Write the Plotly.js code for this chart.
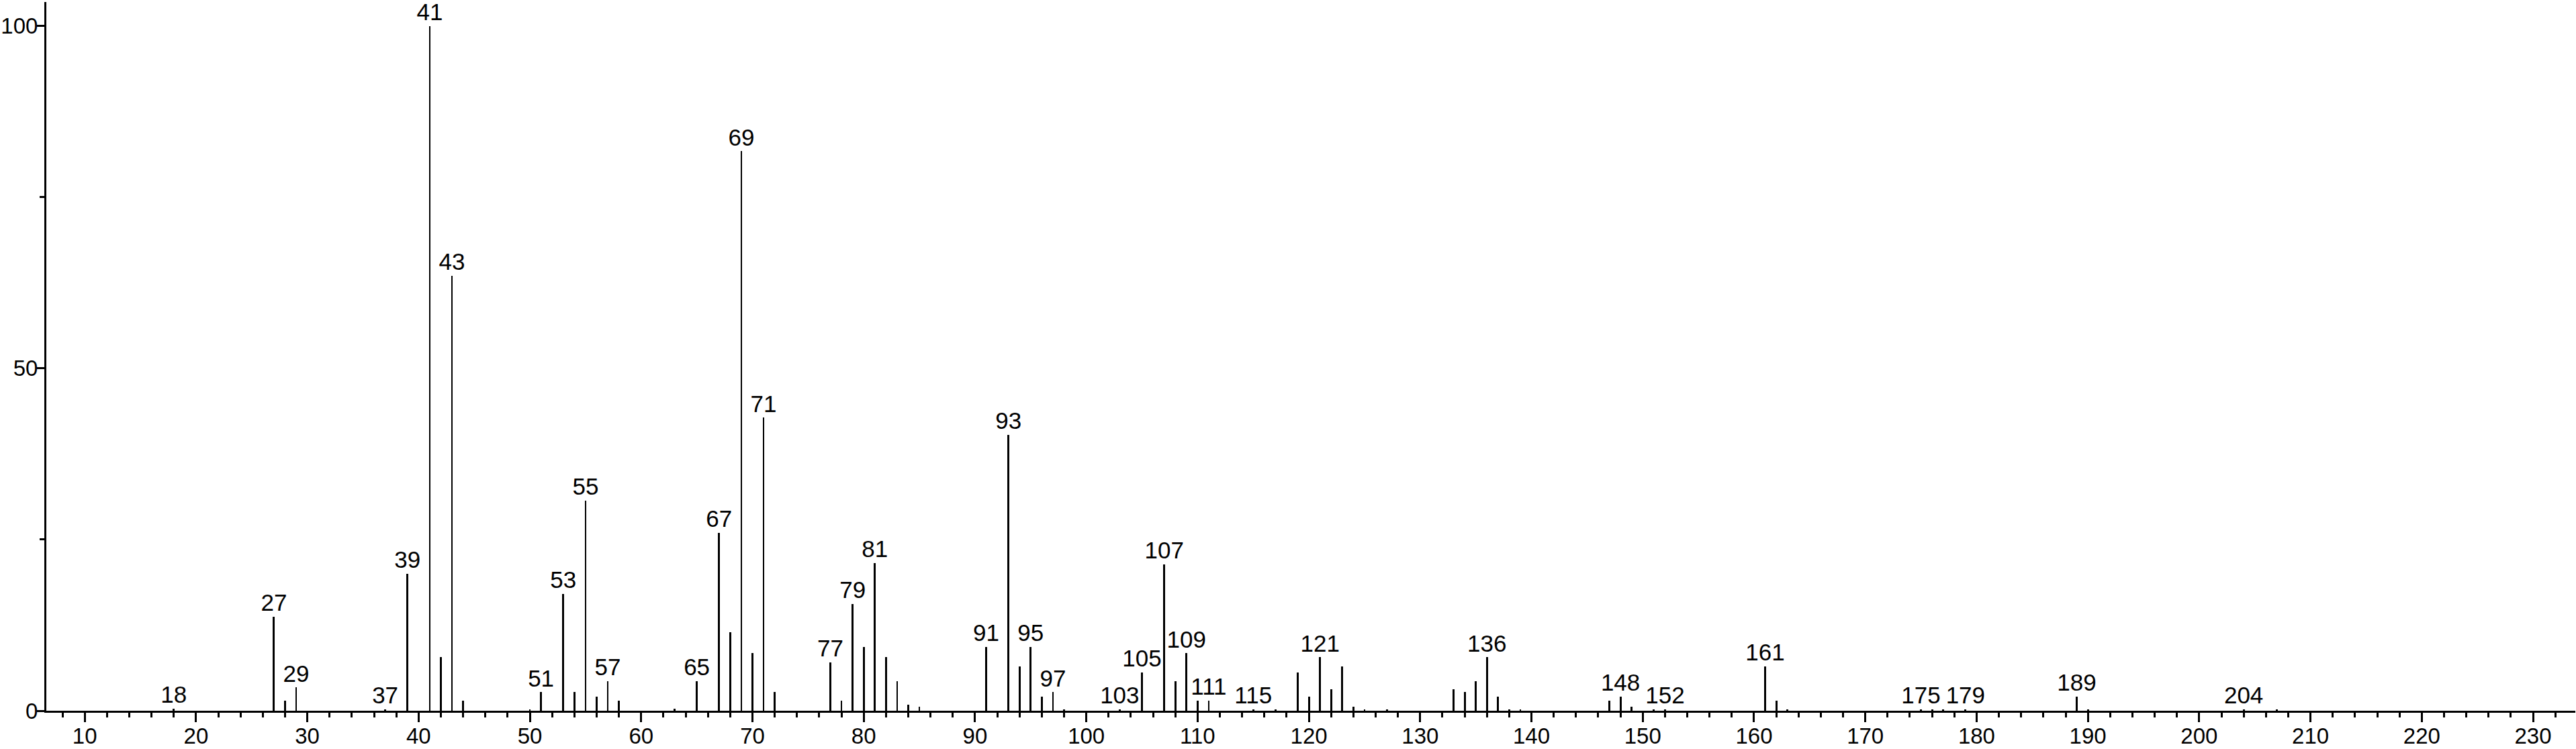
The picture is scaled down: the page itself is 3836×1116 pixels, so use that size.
<!DOCTYPE html>
<html>
<head>
<meta charset="utf-8">
<script src="https://cdn.plot.ly/plotly-3.0.1.min.js"></script>
<style>
  html, body { margin: 0; padding: 0; background: #ffffff; }
  #chart { width: 3836px; height: 1116px; }
</style>
</head>
<body>
<div id="chart"></div>
<script>
// m/z values of peaks
const mz = [
  18, 27, 28, 29, 37, 39, 41, 42, 43, 44,
  50, 51, 53, 54, 55, 56, 57, 58, 63, 65,
  67, 68, 69, 70, 71, 72, 77, 78, 79, 80,
  81, 82, 83, 84, 85, 91, 93, 94, 95, 96,
  97, 98, 103, 105, 107, 108, 109, 110, 111, 115,
  117, 119, 120, 121, 122, 123, 124, 125, 127, 133,
  134, 135, 136, 137, 138, 139, 147, 148, 149, 151,
  152, 161, 162, 163, 175, 176, 177, 179, 189, 190,
  204, 207
];
// relative intensities (%)
const intensity = [
  0.3, 13.7, 1.5, 3.4, 0.2, 20.0, 100, 7.8, 63.5, 1.5,
  0.2, 2.7, 17.1, 2.7, 30.7, 2.1, 4.3, 1.5, 0.3, 4.3,
  26.0, 11.5, 81.7, 8.4, 42.8, 2.7, 7.1, 1.5, 15.6, 9.3,
  21.6, 7.8, 4.3, 0.9, 0.6, 9.3, 40.3, 6.5, 9.3, 2.1,
  2.7, 0.2, 0.2, 5.6, 21.4, 4.3, 8.4, 1.5, 1.5, 0.2,
  0.2, 5.6, 2.1, 7.8, 3.1, 6.5, 0.6, 0.2, 0.2, 3.1,
  2.7, 4.3, 7.8, 2.1, 0.2, 0.2, 1.5, 2.1, 0.6, 0.2,
  0.2, 6.5, 1.5, 0.2, 0.2, 0.2, 0.2, 0.2, 2.1, 0.2,
  0.2, 0.2
];
// peaks that carry a text label
const labelledMz = [
  18, 27, 29, 37, 39, 41, 43, 51, 53, 55, 57, 65, 67, 69, 71,
  77, 79, 81, 91, 93, 95, 97, 103, 105, 107, 109, 111, 115,
  121, 136, 148, 152, 161, 175, 179, 189, 204
];
const xTickVals = [10, 20, 30, 40, 50, 60, 70, 80, 90, 100, 110, 120, 130, 140, 150, 160, 170, 180, 190, 200, 210, 220, 230];
const yTickVals = [0, 50, 100];
const yTickText = ['0', '50', '100'];

const labelY = labelledMz.map(m => intensity[mz.indexOf(m)]);
const labelText = labelledMz.map(m => String(m));

const FONT = '"Liberation Sans", Arial, Helvetica, sans-serif';

const traces = [
  {
    type: 'bar',
    x: mz,
    y: intensity,
    width: 0.17,
    marker: { color: '#000000', line: { width: 0 } },
    hoverinfo: 'x+y',
    showlegend: false
  },
  {
    type: 'scatter',
    mode: 'text',
    x: labelledMz,
    y: labelY,
    text: labelText,
    textposition: 'top center',
    textfont: { family: FONT, size: 35, color: '#000000' },
    cliponaxis: false,
    hoverinfo: 'skip',
    showlegend: false
  }
];

const layout = {
  width: 3836,
  height: 1116,
  paper_bgcolor: '#ffffff',
  plot_bgcolor: '#ffffff',
  margin: { l: 69, r: 1, t: 3, b: 57, pad: 0 },
  bargap: 0,
  showlegend: false,
  font: { family: FONT, color: '#000000' },
  xaxis: {
    range: [6.55, 233.8],
    showgrid: false,
    zeroline: false,
    showline: true,
    linecolor: '#000000',
    linewidth: 3,
    ticks: 'outside',
    ticklen: 14,
    tickwidth: 3,
    tickcolor: '#000000',
    tickmode: 'array',
    tickvals: xTickVals,
    ticktext: xTickVals.map(String),
    ticklabelstandoff: -8,
    tickfont: { family: FONT, size: 33, color: '#000000' },
    minor: { dtick: 2, tick0: 0, ticks: 'outside', ticklen: 7, tickwidth: 3, tickcolor: '#000000', showgrid: false },
    fixedrange: true
  },
  yaxis: {
    range: [0, 103.5],
    showgrid: false,
    zeroline: false,
    showline: true,
    linecolor: '#000000',
    linewidth: 3,
    ticks: 'outside',
    ticklen: 11,
    tickwidth: 3,
    tickcolor: '#000000',
    tickmode: 'array',
    tickvals: yTickVals,
    ticktext: yTickText,
    ticklabelstandoff: -8,
    tickfont: { family: FONT, size: 33, color: '#000000' },
    minor: { dtick: 25, tick0: 0, ticks: 'outside', ticklen: 7, tickwidth: 3, tickcolor: '#000000', showgrid: false },
    fixedrange: true
  }
};

Plotly.newPlot('chart', traces, layout, { staticPlot: true, displayModeBar: false });
</script>
</body>
</html>
